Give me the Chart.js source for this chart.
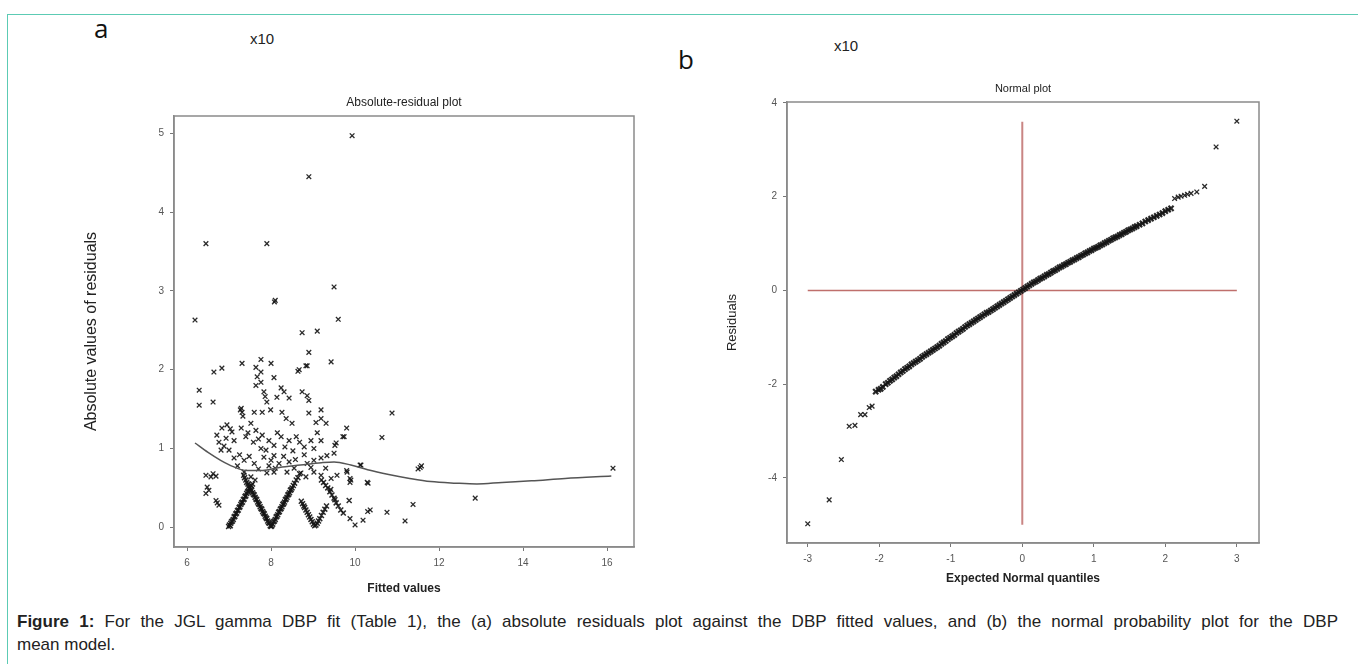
<!DOCTYPE html>
<html>
<head>
<meta charset="utf-8">
<script src="https://cdn.jsdelivr.net/npm/chart.js@4.4.0/dist/chart.umd.min.js"></script>
<style>
body{margin:0;background:#fff;width:1358px;height:664px;overflow:hidden;position:relative;font-family:"Liberation Sans",Arial,sans-serif}
#frame{position:absolute;left:7px;top:14px;width:1360px;height:660px;border-top:1.5px solid #5ccbb4;border-left:1.5px solid #5ccbb4}
.panel{position:absolute;font-family:"Open Sans",sans-serif;font-size:26px;line-height:26px;color:#111}
.mult{position:absolute;font-size:15px;line-height:15px;color:#222}
#w1{position:absolute;left:60px;top:60px;width:600px;height:550px}
#w2{position:absolute;left:680px;top:40px;width:640px;height:570px}
#caption{position:absolute;left:17px;top:610px;width:1321px;font-size:17px;line-height:23px;color:#222}
#caption .l1{text-align:justify;text-align-last:justify;white-space:nowrap}
</style>
</head>
<body>
<div id="frame"></div>
<div class="panel" style="left:94px;top:15px">a</div>
<div class="panel" style="left:678px;top:46px">b</div>
<div class="mult" style="left:250px;top:31px">x10</div>
<div class="mult" style="left:834px;top:38px">x10</div>
<div id="w1"><canvas id="c1"></canvas></div>
<div id="w2"><canvas id="c2"></canvas></div>
<div id="caption">
  <div class="l1"><b>Figure 1:</b> For the JGL gamma DBP fit (Table 1), the (a) absolute residuals plot against the DBP fitted values, and (b) the normal probability plot for the DBP</div>
  <div>mean model.</div>
</div>
<script>
// ---- panel (a): absolute residuals vs fitted values ----
const fittedTicks = [6, 8, 10, 12, 14, 16];
const absTicks = [0, 1, 2, 3, 4, 5];

const outlierPts = [
  [9.93,4.97],[8.9,4.45],[6.45,3.6],[7.9,3.6],[8.1,2.88],[8.08,2.86],[6.19,2.63],[9.5,3.05],[9.6,2.64],
  [8.74,2.47],[9.1,2.49],[8.9,2.22],[9.43,2.1],[8.86,2.05],[8.64,1.98],[10.88,1.45],[10.64,1.14],
  [11.55,0.76],[11.5,0.74],[11.58,0.78],[12.86,0.37],[16.14,0.75],[11.38,0.29],[11.19,0.08],[10.76,0.19],
  [10.36,0.22],[10.3,0.2],[10.19,0.09],[10.0,0.03],[9.88,0.11],[10.12,0.79],[9.8,0.72],[9.88,0.62],
  [9.88,0.57],[10.31,0.56],[9.8,1.26],[9.71,1.15],[9.52,1.04]
];

const cloudPts = [
  [6.64,1.97],[6.83,2.02],[7.31,2.08],[7.64,2.03],[7.76,2.13],[8.0,2.08],[7.76,1.97],[7.67,1.91],[8.07,1.9],
  [8.67,2.0],[8.83,2.05],[6.29,1.74],[6.29,1.55],[6.62,1.59],
  [7.64,1.8],[7.76,1.84],[7.83,1.72],[7.9,1.59],[7.86,1.66],[8.24,1.77],[8.31,1.72],[8.43,1.64],[8.14,1.65],
  [8.74,1.72],[8.9,1.61],[8.86,1.67],
  [7.29,1.51],[7.31,1.46],[7.27,1.49],[7.33,1.41],[7.6,1.46],[7.79,1.46],[7.99,1.49],[8.26,1.46],[8.36,1.38],
  [8.5,1.32],[8.9,1.45],[9.19,1.49],[9.19,1.38],[9.07,1.33],[9.31,1.32],[9.74,1.15],[9.55,1.07],
  [6.95,1.3],[6.83,1.26],[6.71,1.17],[6.93,1.13],[7.07,1.21],[7.12,1.1],[7.0,0.98],[6.81,0.98],[6.88,1.03],
  [6.76,1.08],[7.03,1.25],
  [7.29,1.26],[7.4,1.15],[7.52,1.32],[7.64,1.23],[7.79,1.17],[7.76,1.0],[7.95,1.1],[8.07,1.04],[7.88,0.98],
  [7.45,1.2],[7.58,1.08],[7.7,1.12],
  [8.24,1.15],[8.43,1.1],[8.6,1.15],[8.79,1.02],[8.95,1.1],[9.02,1.0],[9.19,1.1],[8.33,1.02],[8.52,0.97],
  [8.68,1.08],[9.1,1.2],[8.15,1.2],
  [7.12,0.88],[7.36,0.85],[7.6,0.81],[7.83,0.89],[8.0,0.85],[8.07,0.91],[8.19,0.81],[8.43,0.83],[8.79,0.92],
  [8.86,0.81],[9.02,0.85],[9.19,0.88],[9.33,0.91],[9.5,0.94],[7.25,0.92],[7.48,0.9],[7.95,0.78],[8.3,0.9],
  [8.58,0.86],[8.1,0.75],[7.7,0.74],
  [7.36,0.7],[7.52,0.64],[7.9,0.69],[8.07,0.7],[8.38,0.7],[8.71,0.69],[8.83,0.64],[9.02,0.7],[9.19,0.66],
  [9.43,0.62],[9.57,0.66],[9.81,0.7],[9.9,0.6],[10.29,0.57],[10.14,0.79],[7.2,0.78],[7.62,0.6],[8.95,0.76],
  [9.3,0.75],[8.55,0.75],
  [6.45,0.66],[6.57,0.64],[6.69,0.65],[6.48,0.51],[6.45,0.43],[6.69,0.34],[6.76,0.28],[6.72,0.31],[6.52,0.47],
  [6.62,0.68]
];

const bandPts = [
  [6.99,0.01],[7.01,0.03],[7.03,0.02],[7.04,0.05],[7.06,0.07],[7.08,0.08],[7.1,0.1],[7.12,0.13],[7.14,0.14],
  [7.16,0.17],[7.18,0.18],[7.2,0.21],[7.22,0.22],[7.24,0.25],[7.26,0.26],[7.28,0.29],[7.3,0.31],[7.32,0.32],
  [7.34,0.35],[7.36,0.36],[7.38,0.39],[7.4,0.4],[7.42,0.43],[7.44,0.45],[7.46,0.46],[7.48,0.49],[7.5,0.5],
  [7.53,0.53],[7.56,0.55],
  [7.35,0.66],[7.37,0.63],[7.4,0.6],[7.42,0.57],[7.45,0.55],[7.47,0.52],[7.52,0.48],[7.54,0.47],[7.56,0.44],
  [7.58,0.42],[7.6,0.41],[7.62,0.38],[7.64,0.36],[7.66,0.35],[7.68,0.32],[7.7,0.3],[7.72,0.29],[7.74,0.26],
  [7.76,0.24],[7.78,0.23],[7.8,0.2],[7.82,0.18],[7.84,0.17],[7.86,0.14],[7.88,0.12],[7.9,0.11],[7.92,0.08],
  [7.94,0.06],[7.96,0.05],[7.98,0.02],[8.0,0.01],
  [8.02,0.02],[8.04,0.04],[8.06,0.07],[8.08,0.08],[8.1,0.1],[8.12,0.13],[8.14,0.14],[8.16,0.16],[8.18,0.19],
  [8.2,0.2],[8.22,0.23],[8.24,0.24],[8.26,0.26],[8.28,0.29],[8.3,0.3],[8.32,0.32],[8.34,0.35],[8.36,0.36],
  [8.38,0.38],[8.4,0.41],[8.42,0.42],[8.44,0.44],[8.46,0.47],[8.48,0.48],[8.5,0.5],[8.53,0.53],[8.56,0.56],
  [8.6,0.6],[8.64,0.63],[8.68,0.68],
  [8.72,0.33],[8.75,0.3],[8.78,0.27],[8.8,0.25],[8.83,0.22],[8.86,0.19],[8.89,0.16],[8.92,0.13],[8.95,0.1],
  [8.98,0.07],[9.01,0.04],[9.04,0.02],
  [9.07,0.03],[9.1,0.05],[9.13,0.08],[9.16,0.11],[9.2,0.15],[9.24,0.19],[9.28,0.23],[9.32,0.27],
  [9.2,0.6],[9.25,0.57],[9.3,0.53],[9.35,0.5],[9.4,0.45],[9.45,0.41],[9.5,0.37],[9.55,0.31],[9.6,0.27],
  [9.66,0.22],[9.72,0.18],[9.86,0.34],[9.52,0.35],[9.42,0.48]
];

// smooth trend line through the residuals
const trendPts = [
  [6.19,1.07],[6.5,0.95],[6.8,0.85],[7.1,0.77],[7.43,0.72],[7.8,0.72],[8.2,0.76],[8.7,0.79],[9.2,0.82],
  [9.5,0.83],[9.9,0.79],[10.3,0.73],[10.8,0.67],[11.3,0.62],[11.8,0.58],[12.4,0.56],[12.9,0.55],[13.5,0.57],
  [14.2,0.59],[15.0,0.62],[16.1,0.65]
];

// ---- panel (b): normal probability plot ----
const quantTicks = [-3, -2, -1, 0, 1, 2, 3];
const residTicks = [-4, -2, 0, 2, 4];

const qqLowTail = [
  [-3.0,-4.98],[-2.7,-4.47],[-2.53,-3.61],[-2.42,-2.9],[-2.34,-2.88],[-2.26,-2.65],[-2.2,-2.65],[-2.14,-2.5],[-2.1,-2.47]
];
const qqBody = [
  [-2.05,-2.16],[-2.01,-2.12],[-1.98,-2.1],[-1.95,-2.06],[-1.91,-2.0],[-1.88,-1.97],[-1.85,-1.93],[-1.82,-1.9],
  [-1.79,-1.86],[-1.76,-1.83],[-1.73,-1.79],[-1.7,-1.75],[-1.67,-1.72],[-1.64,-1.68],[-1.61,-1.65],[-1.58,-1.62],
  [-1.55,-1.58],[-1.52,-1.55],[-1.49,-1.52],[-1.46,-1.49],[-1.43,-1.46],[-1.4,-1.42],[-1.37,-1.39],[-1.34,-1.36],
  [-1.31,-1.33],[-1.28,-1.3],[-1.25,-1.27],[-1.22,-1.24],[-1.19,-1.21],[-1.16,-1.18],[-1.13,-1.14],[-1.1,-1.11],
  [-1.07,-1.08],[-1.04,-1.04],[-1.01,-1.01],[-0.98,-0.98],[-0.95,-0.95],[-0.92,-0.91],[-0.89,-0.88],[-0.86,-0.85],
  [-0.83,-0.82],[-0.8,-0.78],[-0.77,-0.75],[-0.74,-0.72],[-0.71,-0.69],[-0.68,-0.66],[-0.65,-0.63],[-0.62,-0.6],
  [-0.59,-0.57],[-0.56,-0.54],[-0.53,-0.51],[-0.5,-0.48],[-0.47,-0.46],[-0.44,-0.43],[-0.41,-0.4],[-0.38,-0.37],
  [-0.35,-0.34],[-0.32,-0.31],[-0.29,-0.28],[-0.26,-0.25],[-0.23,-0.22],[-0.2,-0.19],[-0.17,-0.16],[-0.14,-0.13],
  [-0.11,-0.1],[-0.08,-0.07],[-0.05,-0.04],[-0.02,-0.01],[0.01,0.02],[0.04,0.05],[0.07,0.08],[0.1,0.11],
  [0.13,0.14],[0.16,0.17],[0.19,0.19],[0.22,0.22],[0.25,0.25],[0.28,0.27],[0.31,0.3],[0.34,0.33],
  [0.37,0.35],[0.4,0.38],[0.43,0.41],[0.46,0.43],[0.49,0.46],[0.52,0.49],[0.55,0.51],[0.58,0.54],
  [0.61,0.56],[0.64,0.59],[0.67,0.61],[0.7,0.64],[0.73,0.66],[0.76,0.69],[0.79,0.71],[0.82,0.74],
  [0.85,0.76],[0.88,0.79],[0.91,0.81],[0.94,0.84],[0.97,0.86],[1.0,0.89],[1.03,0.91],[1.06,0.93],
  [1.09,0.96],[1.12,0.98],[1.15,1.01],[1.18,1.03],[1.21,1.06],[1.24,1.08],[1.27,1.11],[1.3,1.13],
  [1.33,1.15],[1.36,1.18],[1.39,1.2],[1.42,1.23],[1.45,1.25],[1.48,1.28],[1.51,1.3],[1.54,1.32],
  [1.57,1.35],[1.6,1.37],[1.64,1.4],[1.68,1.43],[1.72,1.47],[1.76,1.5],[1.8,1.53],[1.84,1.56],
  [1.88,1.59],[1.92,1.62],[1.96,1.65],[2.0,1.69],[2.04,1.72],[2.08,1.75]
];
const qqHighTail = [
  [2.13,1.96],[2.18,1.99],[2.22,2.01],[2.27,2.03],[2.31,2.05],[2.36,2.07],[2.44,2.1],[2.55,2.22],[2.71,3.06],[3.0,3.61]
];
const refLineH = [[-3,0],[3,0]];
const refLineV = [[0,-5],[0,3.6]];

const toXY = pts => pts.map(([x, y]) => ({x, y}));
const markColor = 'rgba(20,20,20,0.9)';
const axisGray = '#8a8a8a';

const framePlugin = {
  id: 'frame',
  beforeDatasetsDraw(chart) {
    const a = chart.chartArea, ctx = chart.ctx;
    ctx.save();
    ctx.strokeStyle = axisGray;
    ctx.lineWidth = 1.5;
    ctx.strokeRect(a.left, a.top, a.right - a.left, a.bottom - a.top);
    ctx.restore();
  }
};

function marks(pts, r = 3.3, w = 1.3) {
  return {data: toXY(pts), pointStyle: 'crossRot', pointRadius: r, borderWidth: w,
          borderColor: markColor, backgroundColor: markColor, order: 1};
}

function axis(opts) {
  return {
    type: 'linear', min: opts.min, max: opts.max,
    afterBuildTicks: s => { s.ticks = opts.ticks.map(v => ({value: v})); },
    afterFit: s => { if (opts.width) s.width = opts.width; if (opts.height) s.height = opts.height; },
    border: {display: true, color: axisGray, width: 1.5},
    grid: {display: true, drawOnChartArea: false, drawTicks: true, tickLength: 4, color: '#777', tickWidth: 1},
    ticks: {font: {family: 'Liberation Sans', size: 10}, color: '#555', padding: 6},
    title: {display: true, text: opts.title, color: '#222',
            font: {family: 'Liberation Sans', size: opts.titleSize, weight: opts.bold ? 'bold' : 'normal'},
            padding: opts.titlePad}
  };
}

Chart.defaults.animation = false;

new Chart(document.getElementById('c1'), {
  type: 'scatter',
  data: {datasets: [
    marks(outlierPts), marks(cloudPts), marks(bandPts, 3.5, 1.5),
    {data: toXY(trendPts), showLine: true, pointRadius: 0, borderColor: '#555', borderWidth: 1.5,
     cubicInterpolationMode: 'monotone', order: 0}
  ]},
  options: {
    responsive: true, maintainAspectRatio: false,
    layout: {padding: {left: 0, right: 26, top: 0, bottom: 0}},
    plugins: {
      legend: {display: false}, tooltip: {enabled: false},
      title: {display: true, fullSize: false, text: 'Absolute-residual plot', color: '#222',
              font: {family: 'Liberation Sans', size: 12, weight: 'normal'}, padding: {top: 35, bottom: 6.6}}
    },
    scales: {
      x: axis({min: 5.69, max: 16.64, ticks: fittedTicks, height: 63, title: 'Fitted values', titleSize: 12, bold: true,
               titlePad: {top: 0, bottom: 13.8}}),
      y: axis({min: -0.25, max: 5.22, ticks: absTicks, width: 114, title: 'Absolute values of residuals', titleSize: 16,
               titlePad: {top: 22.4, bottom: 0}})
    }
  },
  plugins: [framePlugin]
});

new Chart(document.getElementById('c2'), {
  type: 'scatter',
  data: {datasets: [
    {data: toXY(refLineH), showLine: true, pointRadius: 0, borderColor: '#bf6f6c', borderWidth: 1.5, order: 2},
    {data: toXY(refLineV), showLine: true, pointRadius: 0, borderColor: '#c98583', borderWidth: 2, order: 2},
    marks(qqLowTail), marks(qqBody, 3.6, 2.2), marks(qqHighTail)
  ]},
  options: {
    responsive: true, maintainAspectRatio: false,
    layout: {padding: {left: 0, right: 61, top: 0, bottom: 0}},
    plugins: {
      legend: {display: false}, tooltip: {enabled: false},
      title: {display: true, fullSize: false, text: 'Normal plot', color: '#222',
              font: {family: 'Liberation Sans', size: 11, weight: 'normal'}, padding: {top: 42.4, bottom: 6.4}}
    },
    scales: {
      x: axis({min: -3.29, max: 3.31, ticks: quantTicks, height: 67, title: 'Expected Normal quantiles', titleSize: 12, bold: true,
               titlePad: {top: 0, bottom: 23.8}}),
      y: axis({min: -5.39, max: 4.02, ticks: residTicks, width: 107, title: 'Residuals', titleSize: 13,
               titlePad: {top: 44.2, bottom: 0}})
    }
  },
  plugins: [framePlugin]
});
</script>
</body>
</html>
